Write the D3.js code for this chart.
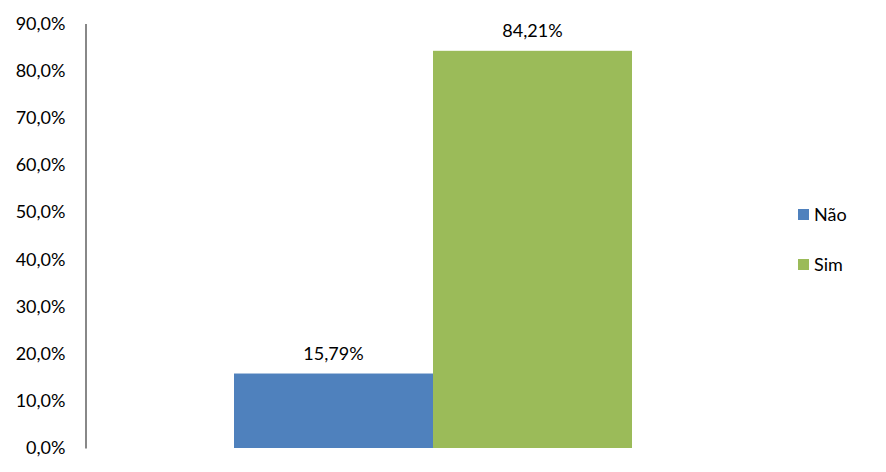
<!DOCTYPE html>
<html><head><meta charset="utf-8">
<script src="https://cdn.jsdelivr.net/npm/d3@7"></script>
<style>body{margin:0;background:#fff}svg{display:block}text{font-family:Lato,"Open Sans",sans-serif;fill:#000}</style>
</head><body>
<svg id="c" width="886" height="472"></svg>
<script>
const categories = ["Não", "Sim"];
const values = [15.79, 84.21];
const valueLabels = ["15,79%", "84,21%"];
const colors = ["#4F81BD", "#9BBB59"];
const ticks = [0,10,20,30,40,50,60,70,80,90];
const tickLabels = ["0,0%","10,0%","20,0%","30,0%","40,0%","50,0%","60,0%","70,0%","80,0%","90,0%"];

const svg = d3.select("#c");
const y = d3.scaleLinear().domain([0, 90]).range([448, 23.5]);
const x = d3.scaleBand().domain(categories).range([234, 632]).padding(0);

const yAxis = d3.axisLeft(y).tickValues(ticks).tickSize(0).tickPadding(20)
  .tickFormat((d,i) => tickLabels[i]);
const g = svg.append("g").attr("transform","translate(85.5,0)").call(yAxis);
g.select(".domain").attr("stroke","#888").attr("stroke-width",2);
g.selectAll("text").style("font-size","18px").attr("fill","#000").style("font-family","Lato, 'Open Sans', sans-serif");

svg.selectAll("rect.bar").data(categories).join("rect").attr("class","bar")
  .attr("x", d => x(d)).attr("width", x.bandwidth())
  .attr("y", (d,i) => y(values[i])).attr("height", (d,i) => y(0) - y(values[i]))
  .attr("fill", (d,i) => colors[i]);

svg.selectAll("text.lbl").data(categories).join("text").attr("class","lbl")
  .attr("x", d => x(d) + x.bandwidth()/2)
  .attr("y", (d,i) => y(values[i]) - 14)
  .attr("text-anchor","middle").style("font-size","18px")
  .text((d,i) => valueLabels[i]);

const leg = svg.selectAll("g.leg").data(categories).join("g").attr("class","leg")
  .attr("transform", (d,i) => `translate(798,${209 + i*50})`);
leg.append("rect").attr("width",11).attr("height",11).attr("fill",(d,i)=>colors[i]);
leg.append("text").attr("x",16).attr("y",12).style("font-size","18px").text(d=>d);
</script>
</body></html>
